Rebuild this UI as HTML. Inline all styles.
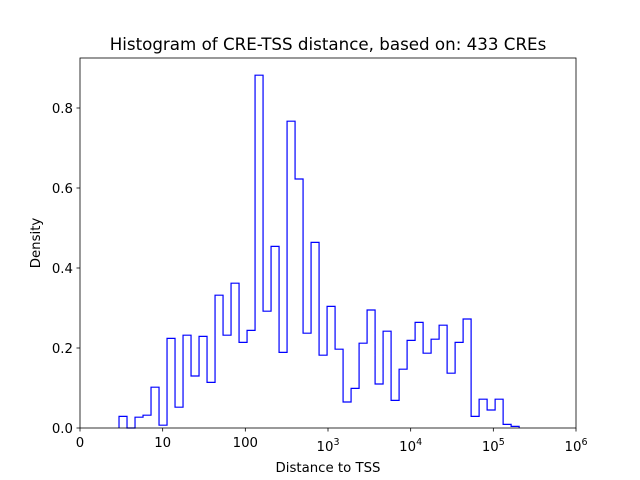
<!DOCTYPE html>
<html><head><meta charset="utf-8"><style>
body{margin:0;background:#fff}
svg{display:block;font-family:"DejaVu Sans","Liberation Sans",sans-serif}
</style></head><body>
<svg id="c" width="640" height="480">
<rect width="640" height="480" fill="#fff"/>
<text x="328" y="50" font-size="16.7" text-anchor="middle">Histogram of CRE-TSS distance, based on: 433 CREs</text>
<g id="plot"></g>
<rect x="80" y="58" width="496" height="370" fill="none" stroke="#000" stroke-width="0.8"/>
<g id="xt" font-size="13.3" text-anchor="middle"></g>
<g id="yt" font-size="13.3" text-anchor="end"></g>
<text x="328" y="472" font-size="13.3" text-anchor="middle">Distance to TSS</text>
<text transform="translate(40,243) rotate(-90)" font-size="13.3" text-anchor="middle">Density</text>
</svg>
<script>
const binStart = 0.472;
const binWidth = 0.0968;
const densities = [0.029,0,0.027,0.032,0.102,0.007,0.224,0.052,0.232,0.13,0.229,0.114,0.332,0.232,0.362,0.214,0.244,0.882,0.292,0.454,0.189,0.767,0.6225,0.237,0.464,0.182,0.304,0.197,0.065,0.099,0.212,0.295,0.11,0.242,0.069,0.147,0.219,0.264,0.187,0.222,0.257,0.137,0.214,0.2725,0.029,0.072,0.045,0.072,0.009,0.004];
const xTickVals = [0,1,2,3,4,5,6];
const xTickLabels = ["0","10","100","10|3","10|4","10|5","10|6"];
const yTickVals = [0,0.2,0.4,0.6,0.8];
const yTickLabels = ["0.0","0.2","0.4","0.6","0.8"];
const NS="http://www.w3.org/2000/svg";
const X = v => 80 + v*(496/6);
const Y = v => 428 - v*400;
const plot=document.getElementById('plot');
let d = "M"+X(binStart)+","+Y(0);
densities.forEach((h,i)=>{
  const x0=X(binStart+i*binWidth), x1=X(binStart+(i+1)*binWidth);
  d += " L"+x0+","+Y(h)+" L"+x1+","+Y(h);
});
d += " L"+X(binStart+densities.length*binWidth)+","+Y(0);
const p=document.createElementNS(NS,'path');
p.setAttribute('d',d);p.setAttribute('fill','none');p.setAttribute('stroke','#0000ff');p.setAttribute('stroke-width','1.2');


plot.appendChild(p);
const xt=document.getElementById('xt');
xTickVals.forEach((v,i)=>{
  const x=X(v);
  const l=document.createElementNS(NS,'line');
  l.setAttribute('x1',x);l.setAttribute('x2',x);l.setAttribute('y1',428);l.setAttribute('y2',431.5);l.setAttribute('stroke','#000');l.setAttribute('stroke-width','0.8');
  
  
  xt.appendChild(l);
  const t=document.createElementNS(NS,'text');
  t.setAttribute('x',x);t.setAttribute('y',447);
  
  
  const parts=xTickLabels[i].split('|');
  t.textContent=parts[0];
  if(parts[1]){const s=document.createElementNS(NS,'tspan');s.setAttribute('font-size','9.5');s.setAttribute('dy','-6');s.textContent=parts[1];t.appendChild(s);t.setAttribute('y',451);}
  xt.appendChild(t);
});
const yt=document.getElementById('yt');
yTickVals.forEach((v,i)=>{
  const y=Y(v);
  const l=document.createElementNS(NS,'line');
  l.setAttribute('x1',76.5);l.setAttribute('x2',80);l.setAttribute('y1',y);l.setAttribute('y2',y);l.setAttribute('stroke','#000');l.setAttribute('stroke-width','0.8');
  
  
  yt.appendChild(l);
  const t=document.createElementNS(NS,'text');
  t.setAttribute('x',73);t.setAttribute('y',y+5);
  
  
  t.textContent=yTickLabels[i];
  yt.appendChild(t);
});
</script>
</body></html>
